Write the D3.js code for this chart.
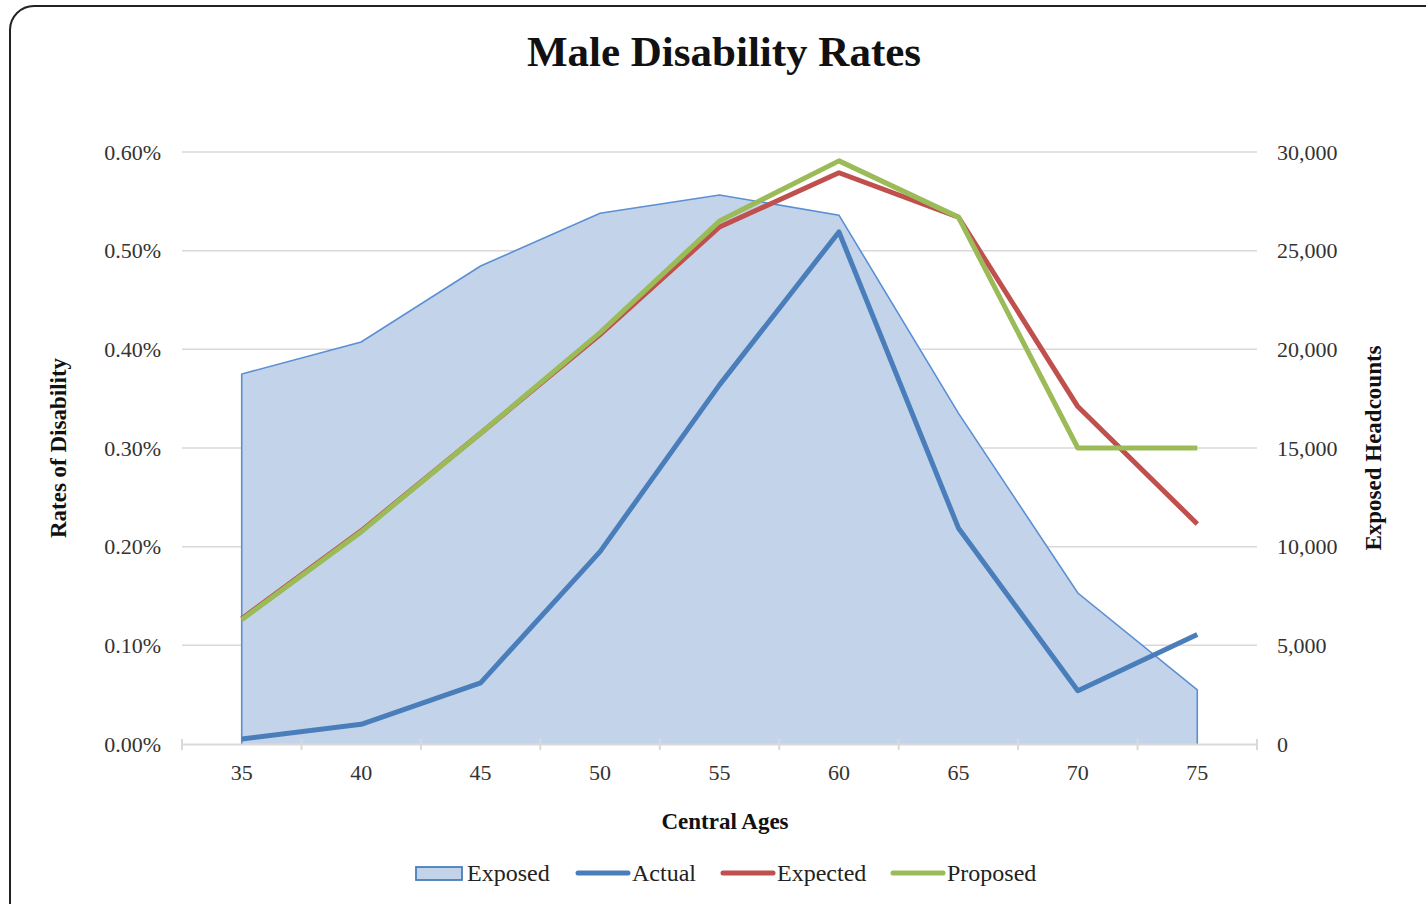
<!DOCTYPE html>
<html><head><meta charset="utf-8">
<script src="https://cdn.jsdelivr.net/npm/d3@7"></script>
<style>body{margin:0;background:#fff;} text{font-family:"Liberation Serif","Times New Roman",serif;}</style>
</head><body>
<svg id="c" width="1426" height="904"></svg>
<script>
const ages = ["35","40","45","50","55","60","65","70","75"];
const exposed = [18750, 20370, 24220, 26900, 27820, 26800, 16770, 7650, 2740];
const actual = [0.00005, 0.00020, 0.00062, 0.00195, 0.00364, 0.00519, 0.00219, 0.00054, 0.00111];
const expected = [0.00127, 0.00216, 0.00315, 0.00415, 0.00524, 0.00579, 0.00534, 0.00342, 0.00223];
const proposed = [0.00126, 0.00215, 0.00315, 0.00417, 0.00530, 0.00591, 0.00534, 0.00300, 0.00300];
const leftTicks = [0, 0.001, 0.002, 0.003, 0.004, 0.005, 0.006];
const rightTicks = [0, 5000, 10000, 15000, 20000, 25000, 30000];

const svg = d3.select("#c");
const L = 182, R = 1257, T = 152, B = 744;

svg.append("rect").attr("x", 10).attr("y", 6).attr("width", 1440).attr("height", 930)
  .attr("rx", 24).attr("fill", "#fff").attr("stroke", "#222").attr("stroke-width", 2);

const x = d3.scaleBand().domain(ages).range([L, R]).padding(0);
const xc = d => x(d) + x.bandwidth() / 2;
const yL = d3.scaleLinear().domain([0, 0.006]).range([B, T]);
const yR = d3.scaleLinear().domain([0, 30000]).range([B, T]);

// gridlines
svg.append("g").selectAll("line").data(leftTicks.slice(1)).join("line")
  .attr("x1", L).attr("x2", R).attr("y1", d => yL(d)).attr("y2", d => yL(d))
  .attr("stroke", "#d9d9d9").attr("stroke-width", 1.5);

// area
svg.append("path").datum(ages.map((a, i) => [a, exposed[i]]))
  .attr("d", d3.area().x(d => xc(d[0])).y0(B).y1(d => yR(d[1])))
  .attr("fill", "#c3d4ea");
svg.append("path").datum(ages.map((a, i) => [a, exposed[i]]))
  .attr("d", d => {
    const line = d3.line().x(p => xc(p[0])).y(p => yR(p[1]))(d);
    return "M" + xc(d[0][0]) + "," + B + "L" + line.slice(1) + "L" + xc(d[d.length-1][0]) + "," + B;
  })
  .attr("fill", "none").attr("stroke", "#5b8fd4").attr("stroke-width", 1.6);

// axis line with ticks
const xAxis = d3.axisBottom(x).tickSize(0).tickPadding(20);
const gx = svg.append("g").attr("transform", `translate(0,${B})`).call(xAxis);
gx.select(".domain").attr("stroke", "#d9d9d9").attr("stroke-width", 2);
gx.selectAll("text").attr("font-size", 22).attr("fill", "#333").attr("font-family", "Liberation Serif");
const bounds = ages.map(a => x(a)).concat([R]);
svg.append("g").selectAll("line").data(bounds).join("line")
  .attr("x1", d => d).attr("x2", d => d).attr("y1", B - 5).attr("y2", B + 6)
  .attr("stroke", "#d9d9d9").attr("stroke-width", 2);

// lines
const series = [[actual, "#4a7ebb"], [expected, "#c0504d"], [proposed, "#9bbb59"]];
series.forEach(([vals, col]) => {
  svg.append("path").datum(vals)
    .attr("d", d3.line().x((d, i) => xc(ages[i])).y(d => yL(d)))
    .attr("fill", "none").attr("stroke", col).attr("stroke-width", 5)
    .attr("stroke-linejoin", "round");
});

// left axis
const gl = svg.append("g").attr("transform", `translate(${L},0)`)
  .call(d3.axisLeft(yL).tickValues(leftTicks).tickFormat(d3.format(".2%")).tickSize(0).tickPadding(21));
gl.select(".domain").remove();
gl.selectAll("text").attr("font-size", 22).attr("fill", "#333").attr("font-family", "Liberation Serif");

// right axis
const gr = svg.append("g").attr("transform", `translate(${R},0)`)
  .call(d3.axisRight(yR).tickValues(rightTicks).tickFormat(d3.format(",")).tickSize(0).tickPadding(20));
gr.select(".domain").remove();
gr.selectAll("text").attr("font-size", 22).attr("fill", "#333").attr("font-family", "Liberation Serif");

// titles
svg.append("text").attr("x", 724).attr("y", 66).attr("text-anchor", "middle")
  .attr("font-size", 43).attr("font-weight", "bold").attr("fill", "#111").text("Male Disability Rates");
svg.append("text").attr("transform", "translate(66,448) rotate(-90)").attr("text-anchor", "middle")
  .attr("font-size", 23).attr("font-weight", "bold").attr("fill", "#111").text("Rates of Disability");
svg.append("text").attr("transform", "translate(1381,448) rotate(-90)").attr("text-anchor", "middle")
  .attr("font-size", 23).attr("font-weight", "bold").attr("fill", "#111").text("Exposed Headcounts");
svg.append("text").attr("x", 725).attr("y", 829).attr("text-anchor", "middle")
  .attr("font-size", 23).attr("font-weight", "bold").attr("fill", "#111").text("Central Ages");

// legend
const ly = 873;
const leg = svg.append("g");
leg.append("rect").attr("x", 416).attr("y", ly - 6).attr("width", 46).attr("height", 13)
  .attr("fill", "#c3d4ea").attr("stroke", "#4a7ebb").attr("stroke-width", 1.8);
leg.append("text").attr("x", 467).attr("y", ly + 8).attr("font-size", 24).attr("fill", "#222").text("Exposed");
const legItems = [["Actual", "#4a7ebb", 578, 632], ["Expected", "#c0504d", 723, 777], ["Proposed", "#9bbb59", 893, 947]];
legItems.forEach(([name, col, x0, tx]) => {
  leg.append("line").attr("x1", x0).attr("x2", x0 + 50).attr("y1", ly).attr("y2", ly)
    .attr("stroke", col).attr("stroke-width", 5).attr("stroke-linecap", "round");
  leg.append("text").attr("x", tx).attr("y", ly + 8).attr("font-size", 24).attr("fill", "#222").text(name);
});
</script>
</body></html>
